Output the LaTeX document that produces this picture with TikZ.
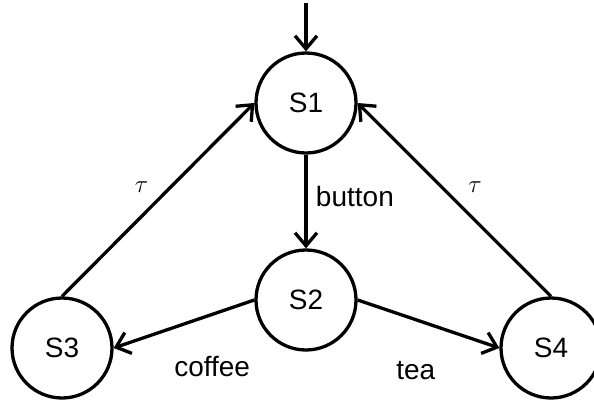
\documentclass[tikz,border=0pt]{standalone}
\usepackage{fontspec}
\setmainfont{Liberation Sans}
\usepackage{tikz}
\usetikzlibrary{arrows.meta,automata,positioning}

\begin{document}
\begin{tikzpicture}[->,>={Straight Barb[length=13pt,width=22pt]},auto,
                    line width=3.3pt, x=1pt, y=-1pt,
                    every node/.style={font=\fontsize{28}{34}\selectfont}]
  \tikzstyle{every state}=[fill=white,draw=black,text=black,minimum size=100pt,line width=3.3pt]
  \useasboundingbox (0,0) rectangle (594,401);

  \coordinate (start) at (306,3);
  \node[state] (s_1) at (306,103) {S1};
  \node[state] (s_2) at (306,300) {S2};
  \node[state] (s_3) at (62,348)  {S3};
  \node[state] (s_4) at (551,348) {S4};

  \path (start) edge (s_1)
        (s_1) edge node[pos=0.45,xshift=5pt] {button} (s_2)
        (s_2.west) edge node[pos=0.3,below=37pt] {coffee} (s_3.east)
        (s_2.east) edge node[pos=0.41,below=37pt] {tea} (s_4.west)
        (s_3.north) edge node[xshift=-5pt,yshift=2pt] {$\tau$} (s_1.west)
        (s_4.north) edge node[swap,xshift=9pt,yshift=2pt] {$\tau$} (s_1.east)
        ;
\end{tikzpicture}
\end{document}
